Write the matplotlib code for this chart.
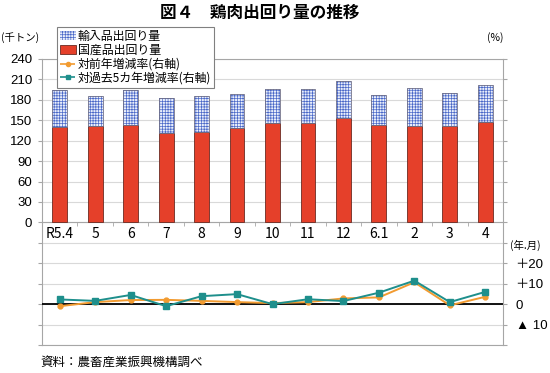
import matplotlib
matplotlib.use('Agg')
import matplotlib.pyplot as plt
import numpy as np
from matplotlib.patches import Patch
from matplotlib.lines import Line2D

plt.rcParams['font.family'] = ['Noto Sans CJK JP', 'DejaVu Sans']
plt.rcParams['hatch.linewidth'] = 0.5

categories = ['R5.4', '5', '6', '7', '8', '9', '10', '11', '12', '6.1', '2', '3', '4']
domestic = [140, 141, 143, 132, 133, 138, 146, 146, 153, 143, 141, 142, 148]
imports = [54, 44, 51, 50, 52, 50, 50, 50, 55, 44, 57, 48, 54]
yoy = [-1.0, 1.0, 2.0, 2.1, 1.6, 1.0, 0.5, 1.0, 2.8, 3.3, 10.7, -0.6, 3.6]
vs5y = [2.3, 1.6, 4.5, -1.0, 3.9, 4.9, 0.0, 2.4, 1.5, 5.6, 11.5, 1.0, 6.0]
left_tick_vals = [0, 30, 60, 90, 120, 150, 180, 210, 240]
right_tick_vals = [-10, 0, 10, 20]
right_tick_labels = ['▲ 10', '0', '＋10', '＋20']
series_names = ['輸入品出回り量', '国産品出回り量', '対前年増減率(右軸)', '対過去5カ年増減率(右軸)']

RED = '#E5402A'
HATCH_FACE = '#eaeffb'
HATCH_EDGE = '#4a68c8'
ORANGE = '#F29B30'
TEAL = '#1E8F8C'
GRID = '#d9d9d9'
SPINE = '#a6a6a6'
NUMFONT = ['Liberation Sans', 'Noto Sans CJK JP']

fig = plt.figure(figsize=(5.5, 3.73), dpi=100)
ax = fig.add_axes([42 / 550, 1 - 345 / 373, 461 / 550, 286 / 373])
x = np.arange(len(categories))
bw = 0.42

ax.bar(x, domestic, width=bw, color=RED, edgecolor='#6b2a22', linewidth=0.6, zorder=3)
ax.bar(x, imports, bottom=domestic, width=bw, color=HATCH_FACE, edgecolor=HATCH_EDGE,
       hatch='++++++', linewidth=0, zorder=3)
ax.bar(x, imports, bottom=domestic, width=bw, fill=False, edgecolor='#707088',
       linewidth=0.6, zorder=4)

ax.set_xlim(-0.5, len(categories) - 0.5)
ax.set_ylim(-180, 240)
ax.set_yticks(list(range(-180, 241, 30)))
ax.set_yticklabels([str(v) if v in left_tick_vals else '' for v in range(-180, 241, 30)],
                   family=NUMFONT, fontsize=9.5)
ax.grid(axis='y', color=GRID, lw=0.8, zorder=0)
ax.set_axisbelow(True)
ax.tick_params(axis='y', length=3, color=SPINE, pad=4)

ax.set_xticks(x)
ax.set_xticklabels(categories, family=NUMFONT, fontsize=9.5)
ax.set_xticks(np.arange(-0.5, len(categories) - 0.4, 1), minor=True)
ax.tick_params(axis='x', which='major', length=0, pad=3.5)
ax.tick_params(axis='x', which='minor', length=3, color=SPINE, direction='out')

for s in ['top', 'right']:
    ax.spines[s].set_visible(False)
ax.spines['left'].set_color(SPINE)
ax.spines['bottom'].set_color(SPINE)
ax.spines['bottom'].set_position(('data', 0))

ax2 = ax.twinx()
ax2.set_ylim(-20, 120)
ax2.axhline(0, color='black', lw=1.3, zorder=1)
ax2.plot(x, yoy, color=ORANGE, marker='o', ms=3.5, lw=1.4, zorder=2)
ax2.plot(x, vs5y, color=TEAL, marker='s', ms=4.2, lw=1.4, zorder=3)
rt = list(range(-20, 121, 10))
ax2.set_yticks(rt)
lab = {v: l for v, l in zip(right_tick_vals, right_tick_labels)}
ax2.set_yticklabels([lab.get(v, '') for v in rt], family=NUMFONT, fontsize=9.5)
ax2.tick_params(axis='y', length=3, color=SPINE, pad=6)
ax2.spines['left'].set_visible(False)
for s in ['top', 'right', 'bottom']:
    ax2.spines[s].set_color(SPINE)

handles = [
    Patch(facecolor=HATCH_FACE, edgecolor=HATCH_EDGE, hatch='++++++', linewidth=0),
    Patch(facecolor=RED, edgecolor='#6b2a22', linewidth=0.6),
    Line2D([], [], color=ORANGE, marker='o', ms=3, lw=1.2, linestyle='--'),
    Line2D([], [], color=TEAL, marker='s', ms=3, lw=1.2, linestyle='--'),
]
leg = ax2.legend(handles, series_names, loc='upper left',
                 bbox_to_anchor=((57 - 42) / 461, (345 - 27) / 286),
                 borderaxespad=0, fontsize=8.6, frameon=True, fancybox=False,
                 framealpha=1, edgecolor='#808080', handlelength=1.3,
                 handleheight=0.8, handletextpad=0.2, labelspacing=0.08,
                 borderpad=0.25)
leg.get_frame().set_linewidth(0.8)

fig.text(260 / 550, 1 - 13 / 373, '図４　鶏肉出回り量の推移', ha='center', va='center',
         fontsize=12, fontweight='bold')
fig.text(1 / 550, 1 - 38 / 373, '(千トン)', ha='left', va='center', fontsize=7.5)
fig.text(495 / 550, 1 - 38 / 373, '(%)', ha='center', va='center', fontsize=7.5)
fig.text(510 / 550, 1 - 245 / 373, '(年.月)', ha='left', va='center', fontsize=7.5)
fig.text(40 / 550, 1 - 362 / 373, '資料：農畜産業振興機構調べ', ha='left', va='center',
         fontsize=9)

fig.savefig('out.png', dpi=100)
